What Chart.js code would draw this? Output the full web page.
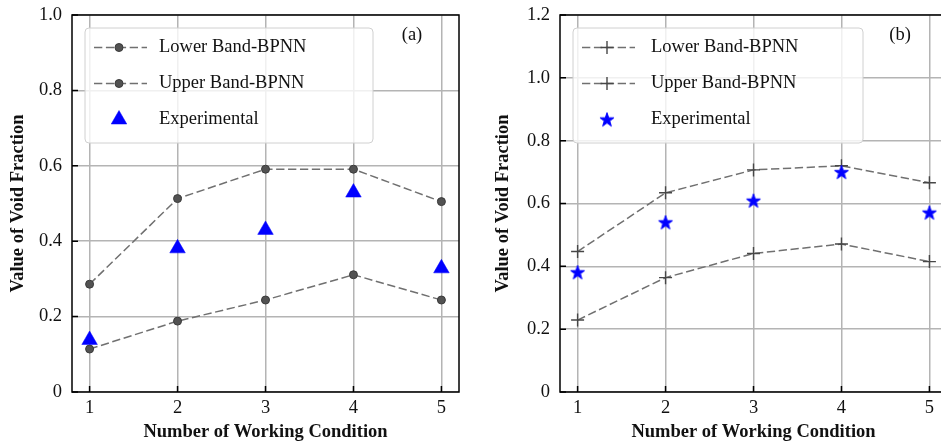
<!DOCTYPE html>
<html>
<head>
<meta charset="utf-8">
<script src="https://cdn.jsdelivr.net/npm/chart.js@4.4.0/dist/chart.umd.min.js"></script>
<style>
html, body { margin: 0; padding: 0; background: #fff; overflow: hidden; width: 941px; height: 444px; }
#wrapA { position: absolute; left: 0; top: 0; width: 470px; height: 444px; }
#wrapB { position: absolute; left: 470px; top: 0; width: 488px; height: 444px; }
</style>
</head>
<body>
<div id="wrapA"><canvas id="chartA" width="470" height="444"></canvas></div>
<div id="wrapB"><canvas id="chartB" width="488" height="444"></canvas></div>
<script>
// working conditions on the x axis
const conditions = [1, 2, 3, 4, 5];

// panel (a)
const lowerA = [0.114, 0.188, 0.244, 0.311, 0.244];
const upperA = [0.286, 0.513, 0.591, 0.591, 0.505];
const expA = [0.138, 0.381, 0.430, 0.529, 0.328];
const yTicksA = [0, 0.2, 0.4, 0.6, 0.8, 1.0];

// panel (b)
const lowerB = [0.229, 0.364, 0.441, 0.471, 0.415];
const upperB = [0.447, 0.634, 0.707, 0.720, 0.666];
const expB = [0.381, 0.540, 0.609, 0.700, 0.571];
const yTicksB = [0, 0.2, 0.4, 0.6, 0.8, 1.0, 1.2];

const seriesNames = ['Lower Band-BPNN', 'Upper Band-BPNN', 'Experimental'];

const serif = 'Liberation Serif, Times New Roman, serif';
const blue = '#0000ff';

function makeStar(r) {
    const s = Math.ceil(r * 2 + 3);
    const c = document.createElement('canvas');
    c.width = s; c.height = s;
    const g = c.getContext('2d');
    g.beginPath();
    for (let i = 0; i < 10; i++) {
        const rr = i % 2 ? r * 0.39 : r;
        const a = -Math.PI / 2 + i * Math.PI / 5;
        g.lineTo(s / 2 + rr * Math.cos(a), s / 2 + 0.6 + rr * Math.sin(a));
    }
    g.closePath();
    g.fillStyle = blue;
    g.fill();
    g.strokeStyle = blue;
    g.lineWidth = 1;
    g.stroke();
    return c;
}
const starImg = makeStar(7.4);

function pts(ys) {
    return conditions.map((x, i) => ({x: x, y: ys[i]}));
}

function band(label, ys, marker) {
    const dot = marker === 'o';
    return {
        label: label,
        data: pts(ys),
        borderColor: '#707070',
        borderWidth: 1.5,
        borderDash: [8.3, 3.6],
        pointStyle: dot ? 'circle' : 'cross',
        pointRadius: dot ? 4 : 6.5,
        pointBackgroundColor: '#525252',
        pointBorderColor: dot ? '#3a3a3a' : '#474747',
        pointBorderWidth: dot ? 1 : 1.4,
        fill: false,
        tension: 0,
        order: 1
    };
}

function experimental(ys, style) {
    return {
        label: seriesNames[2],
        data: pts(ys),
        showLine: false,
        pointStyle: style,
        pointRadius: 9,
        pointBackgroundColor: blue,
        pointBorderColor: blue,
        pointBorderWidth: 0.5,
        order: 0
    };
}

// legend box inside the axes, plus the (a)/(b) tag
const boxLegend = {
    id: 'boxLegend',
    afterDatasetsDraw(chart, args, opts) {
        const {ctx, chartArea: a} = chart;
        const x0 = a.left + 13, y0 = a.top + 13, w = opts.width, h = 115;
        ctx.save();
        ctx.beginPath();
        ctx.roundRect(x0, y0, w, h, 4);
        ctx.fillStyle = 'rgba(255,255,255,0.8)';
        ctx.fill();
        ctx.strokeStyle = '#d0d0d0';
        ctx.lineWidth = 1;
        ctx.stroke();

        chart.data.datasets.forEach((ds, i) => {
            const y = y0 + 19.5 + i * 36;
            if (ds.showLine !== false) {
                ctx.beginPath();
                ctx.setLineDash(ds.borderDash);
                ctx.strokeStyle = ds.borderColor;
                ctx.lineWidth = ds.borderWidth;
                ctx.moveTo(x0 + 9, y);
                ctx.lineTo(x0 + 62, y);
                ctx.stroke();
                ctx.setLineDash([]);
            }
            ctx.fillStyle = ds.pointBackgroundColor;
            ctx.strokeStyle = ds.pointBorderColor;
            ctx.lineWidth = ds.pointBorderWidth;
            Chart.helpers.drawPoint(ctx, {
                pointStyle: ds.pointStyle, radius: ds.pointRadius,
                borderWidth: ds.pointBorderWidth, rotation: 0
            }, x0 + 34, y);
            ctx.fillStyle = '#111';
            ctx.font = '18.5px ' + serif;
            ctx.textAlign = 'left';
            ctx.textBaseline = 'middle';
            ctx.fillText(ds.label, x0 + opts.textOffset, y);
        });

        ctx.font = '18.5px ' + serif;
        ctx.textAlign = 'center';
        ctx.fillStyle = '#111';
        ctx.fillText(opts.tag, a.left + 340, a.top + 20);
        ctx.restore();
    }
};

// full frame and inward tick marks
const frameTicks = {
    id: 'frameTicks',
    afterDraw(chart) {
        const {ctx, chartArea: a, scales} = chart;
        ctx.save();
        ctx.strokeStyle = '#000';
        ctx.lineWidth = 1.5;
        ctx.strokeRect(a.left, a.top, a.right - a.left, a.bottom - a.top);
        ctx.beginPath();
        scales.x.ticks.forEach(t => {
            const px = scales.x.getPixelForValue(t.value);
            ctx.moveTo(px, a.bottom);
            ctx.lineTo(px, a.bottom - 6);
        });
        scales.y.ticks.forEach(t => {
            const py = scales.y.getPixelForValue(t.value);
            ctx.moveTo(a.left, py);
            ctx.lineTo(a.left + 6, py);
        });
        ctx.stroke();
        ctx.restore();
    }
};

function makeChart(id, datasets, yTicks, yMax, yWidth, padLeft, tag, legendWidth, textOffset) {
    return new Chart(document.getElementById(id).getContext('2d'), {
        type: 'line',
        data: {datasets: datasets},
        options: {
            responsive: false,
            animation: false,
            layout: {padding: {left: padLeft, top: 15, right: 11, bottom: 0}},
            scales: {
                x: {
                    type: 'linear',
                    min: 0.8,
                    max: 5.2,
                    afterBuildTicks: s => { s.ticks = conditions.map(v => ({value: v})); },
                    afterFit: s => { s.height = 52; s.paddingLeft = 0; s.paddingRight = 0; },
                    grid: {color: '#b4b4b4', lineWidth: 1.5, drawTicks: false},
                    border: {display: false},
                    ticks: {
                        padding: 5,
                        color: '#111',
                        font: {family: serif, size: 18.5},
                        callback: v => String(v)
                    },
                    title: {
                        display: true,
                        text: 'Number of Working Condition',
                        color: '#111',
                        font: {family: serif, size: 18.5, weight: 'bold'},
                        padding: {top: 0, bottom: 1}
                    }
                },
                y: {
                    type: 'linear',
                    min: 0,
                    max: yMax,
                    afterBuildTicks: s => { s.ticks = yTicks.map(v => ({value: v})); },
                    afterFit: s => { s.width = yWidth; s.paddingTop = 0; s.paddingBottom = 0; },
                    grid: {color: '#b4b4b4', lineWidth: 1.5, drawTicks: false},
                    border: {display: false},
                    ticks: {
                        padding: 10,
                        color: '#111',
                        font: {family: serif, size: 18.5},
                        callback: v => v === 0 ? '0' : v.toFixed(1)
                    },
                    title: {
                        display: true,
                        text: 'Value of Void Fraction',
                        color: '#111',
                        font: {family: serif, size: 18.5, weight: 'bold'},
                        padding: {top: 7, bottom: 0}
                    }
                }
            },
            plugins: {
                legend: {display: false},
                tooltip: {enabled: false},
                boxLegend: {tag: tag, width: legendWidth, textOffset: textOffset}
            }
        },
        plugins: [boxLegend, frameTicks]
    });
}

makeChart('chartA', [
    band(seriesNames[0], lowerA, 'o'),
    band(seriesNames[1], upperA, 'o'),
    experimental(expA, 'triangle')
], yTicksA, 1.0, 72, 0, '(a)', 288, 74);

makeChart('chartB', [
    band(seriesNames[0], lowerB, '+'),
    band(seriesNames[1], upperB, '+'),
    experimental(expB, starImg)
], yTicksB, 1.2, 75, 15, '(b)', 290, 78);
</script>
</body>
</html>
